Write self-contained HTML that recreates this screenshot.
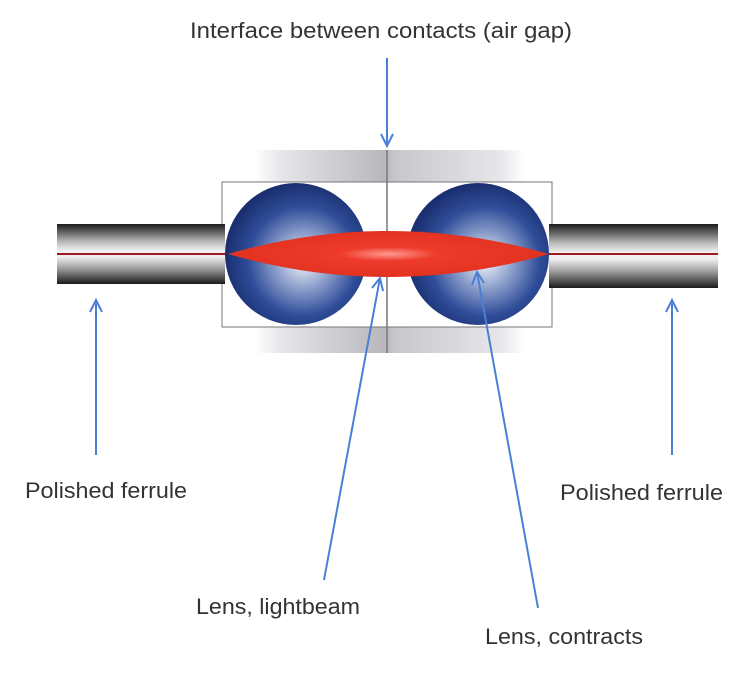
<!DOCTYPE html>
<html><head><style>html,body{margin:0;padding:0;background:#fff;width:733px;height:686px;overflow:hidden}</style></head>
<body>
<svg width="733" height="686" viewBox="0 0 733 686" xmlns="http://www.w3.org/2000/svg">
<defs>
<linearGradient id="band" x1="0" x2="1" y1="0" y2="0">
<stop offset="0" stop-color="#fff"/><stop offset="0.1" stop-color="#e6e6ea"/><stop offset="0.48" stop-color="#b8b8bc"/><stop offset="0.52" stop-color="#c8c8cc"/><stop offset="0.9" stop-color="#e6e6ea"/><stop offset="1" stop-color="#fff"/>
</linearGradient>
<linearGradient id="fer" x1="0" x2="0" y1="0" y2="1">
<stop offset="0" stop-color="#1a1a1a"/><stop offset="0.3" stop-color="#bbb"/><stop offset="0.45" stop-color="#f2f2f2"/><stop offset="0.55" stop-color="#eee"/><stop offset="0.75" stop-color="#999"/><stop offset="1" stop-color="#1a1a1a"/>
</linearGradient>
<radialGradient id="sph" cx="0.55" cy="0.55" r="0.55">
<stop offset="0" stop-color="#f4f6fb"/><stop offset="0.35" stop-color="#8ea0cc"/><stop offset="0.7" stop-color="#2f4d99"/><stop offset="1" stop-color="#1a2f70"/>
</radialGradient>
<radialGradient id="beam" cx="0.5" cy="0.5" r="0.5">
<stop offset="0" stop-color="#ff9a90"/><stop offset="0.3" stop-color="#ee3b2c"/><stop offset="1" stop-color="#e2321f"/>
</radialGradient>
</defs>
<rect x="255" y="150" width="270" height="203" fill="url(#band)"/>
<rect x="222" y="182" width="330" height="145" fill="#fff" stroke="#777" stroke-width="1"/>
<line x1="387" y1="150" x2="387" y2="353" stroke="#777" stroke-width="1.5"/>
<rect x="57" y="224" width="168" height="60" fill="url(#fer)"/>
<rect x="549" y="224" width="169" height="64" fill="url(#fer)"/>
<line x1="57" y1="254" x2="230" y2="254" stroke="#a01820" stroke-width="2"/>
<line x1="545" y1="254" x2="718" y2="254" stroke="#a01820" stroke-width="2"/>
<circle cx="296" cy="254" r="71" fill="url(#sph)"/>
<circle cx="478" cy="254" r="71" fill="url(#sph)"/>
<path d="M228 254 Q388 208 549 254 Q388 300 228 254 Z" fill="url(#beam)"/>
<g stroke="#4a7fd8" stroke-width="2" fill="none">
<line x1="387" y1="58" x2="387" y2="146"/><polyline points="381,134 387,146 393,134"/>
<line x1="96" y1="455" x2="96" y2="300"/><polyline points="90,312 96,300 102,312"/>
<line x1="672" y1="455" x2="672" y2="300"/><polyline points="666,312 672,300 678,312"/>
<line x1="324" y1="580" x2="380" y2="278"/><polyline points="372,288 380,278 383,291"/>
<line x1="538" y1="608" x2="477" y2="272"/><polyline points="472,285 477,272 484,283"/>
</g>
<g font-family="Liberation Sans, sans-serif" font-size="22" fill="#333">
<text x="190" y="38" textLength="382" lengthAdjust="spacingAndGlyphs">Interface between contacts (air gap)</text>
<text x="25" y="498" textLength="162" lengthAdjust="spacingAndGlyphs">Polished ferrule</text>
<text x="560" y="500" textLength="163" lengthAdjust="spacingAndGlyphs">Polished ferrule</text>
<text x="196" y="614" textLength="164" lengthAdjust="spacingAndGlyphs">Lens, lightbeam</text>
<text x="485" y="644" textLength="158" lengthAdjust="spacingAndGlyphs">Lens, contracts</text>
</g>
</svg>
</body></html>
